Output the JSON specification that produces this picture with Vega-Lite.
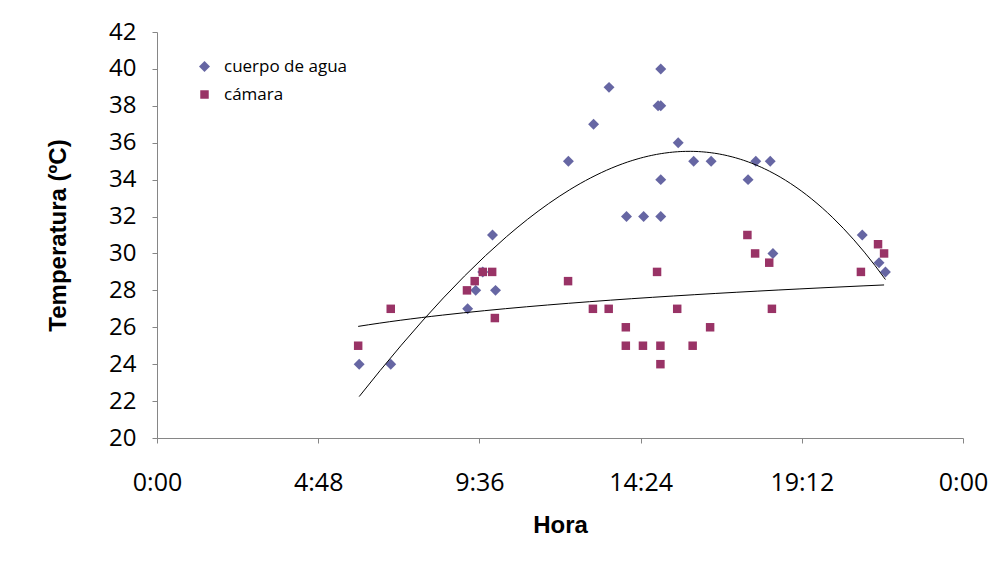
{
  "$schema": "https://vega.github.io/schema/vega-lite/v6.json",
  "width": 806,
  "height": 406,
  "autosize": "none",
  "padding": {"left": 157, "top": 32, "right": 40, "bottom": 125},
  "background": "white",
  "config": {
    "view": {"stroke": null},
    "font": "Open Sans",
    "legend": {
      "title": null,
      "orient": "none",
      "legendX": 39,
      "legendY": 26,
      "padding": 0,
      "symbolOpacity": 1,
      "labelFont": "Open Sans",
      "labelFontSize": 17,
      "labelColor": "black",
      "labelOffset": 11,
      "rowPadding": 10
    }
  },
  "data": {
    "values": [
      {"hora": 6.02, "temp": 24, "serie": "cuerpo de agua"},
      {"hora": 6.96, "temp": 24, "serie": "cuerpo de agua"},
      {"hora": 9.25, "temp": 27, "serie": "cuerpo de agua"},
      {"hora": 9.49, "temp": 28, "serie": "cuerpo de agua"},
      {"hora": 9.70, "temp": 29, "serie": "cuerpo de agua"},
      {"hora": 9.99, "temp": 31, "serie": "cuerpo de agua"},
      {"hora": 10.08, "temp": 28, "serie": "cuerpo de agua"},
      {"hora": 12.25, "temp": 35, "serie": "cuerpo de agua"},
      {"hora": 13.0, "temp": 37, "serie": "cuerpo de agua"},
      {"hora": 13.46, "temp": 39, "serie": "cuerpo de agua"},
      {"hora": 13.98, "temp": 32, "serie": "cuerpo de agua"},
      {"hora": 14.49, "temp": 32, "serie": "cuerpo de agua"},
      {"hora": 14.92, "temp": 38, "serie": "cuerpo de agua"},
      {"hora": 15.0, "temp": 38, "serie": "cuerpo de agua"},
      {"hora": 15.0, "temp": 40, "serie": "cuerpo de agua"},
      {"hora": 15.0, "temp": 34, "serie": "cuerpo de agua"},
      {"hora": 15.0, "temp": 32, "serie": "cuerpo de agua"},
      {"hora": 15.52, "temp": 36, "serie": "cuerpo de agua"},
      {"hora": 15.98, "temp": 35, "serie": "cuerpo de agua"},
      {"hora": 16.5, "temp": 35, "serie": "cuerpo de agua"},
      {"hora": 17.6, "temp": 34, "serie": "cuerpo de agua"},
      {"hora": 17.83, "temp": 35, "serie": "cuerpo de agua"},
      {"hora": 18.26, "temp": 35, "serie": "cuerpo de agua"},
      {"hora": 18.34, "temp": 30, "serie": "cuerpo de agua"},
      {"hora": 21.0, "temp": 31, "serie": "cuerpo de agua"},
      {"hora": 21.5, "temp": 29.5, "serie": "cuerpo de agua"},
      {"hora": 21.69, "temp": 29, "serie": "cuerpo de agua"},
      {"hora": 5.99, "temp": 25, "serie": "cámara"},
      {"hora": 6.96, "temp": 27, "serie": "cámara"},
      {"hora": 9.23, "temp": 28, "serie": "cámara"},
      {"hora": 9.46, "temp": 28.5, "serie": "cámara"},
      {"hora": 9.70, "temp": 29, "serie": "cámara"},
      {"hora": 9.98, "temp": 29, "serie": "cámara"},
      {"hora": 10.06, "temp": 26.5, "serie": "cámara"},
      {"hora": 12.24, "temp": 28.5, "serie": "cámara"},
      {"hora": 12.98, "temp": 27, "serie": "cámara"},
      {"hora": 13.45, "temp": 27, "serie": "cámara"},
      {"hora": 13.96, "temp": 26, "serie": "cámara"},
      {"hora": 13.96, "temp": 25, "serie": "cámara"},
      {"hora": 14.47, "temp": 25, "serie": "cámara"},
      {"hora": 14.89, "temp": 29, "serie": "cámara"},
      {"hora": 14.99, "temp": 25, "serie": "cámara"},
      {"hora": 14.99, "temp": 24, "serie": "cámara"},
      {"hora": 15.49, "temp": 27, "serie": "cámara"},
      {"hora": 15.95, "temp": 25, "serie": "cámara"},
      {"hora": 16.47, "temp": 26, "serie": "cámara"},
      {"hora": 17.58, "temp": 31, "serie": "cámara"},
      {"hora": 17.81, "temp": 30, "serie": "cámara"},
      {"hora": 18.23, "temp": 29.5, "serie": "cámara"},
      {"hora": 18.31, "temp": 27, "serie": "cámara"},
      {"hora": 20.96, "temp": 29, "serie": "cámara"},
      {"hora": 21.47, "temp": 30.5, "serie": "cámara"},
      {"hora": 21.65, "temp": 30, "serie": "cámara"}
    ]
  },
  "encoding": {
    "x": {
      "field": "hora",
      "type": "quantitative",
      "scale": {"domain": [0, 24], "nice": false, "zero": false},
      "axis": {
        "title": "Hora",
        "values": [0, 4.8, 9.6, 14.4, 19.2, 24],
        "labelExpr": "(floor(datum.value + 0.0001) % 24) + ':' + (round((datum.value % 1) * 60) < 10 ? '0' : '') + round((datum.value % 1) * 60)",
        "grid": false,
        "domainColor": "#868686",
        "tickColor": "#868686",
        "tickSize": 5,
        "labelFont": "Open Sans",
        "labelFontSize": 25,
        "labelColor": "black",
        "labelPadding": 27,
        "labelFlush": false,
        "titleFont": "Liberation Sans",
        "titleFontSize": 24,
        "titleFontWeight": "bold",
        "titleColor": "black",
        "titlePadding": 18
      }
    },
    "y": {
      "field": "temp",
      "type": "quantitative",
      "scale": {"domain": [20, 42], "nice": false, "zero": false},
      "axis": {
        "title": "Temperatura (ºC)",
        "values": [20, 22, 24, 26, 28, 30, 32, 34, 36, 38, 40, 42],
        "grid": false,
        "domainColor": "#868686",
        "tickColor": "#868686",
        "tickSize": 5,
        "labelFont": "Open Sans",
        "labelFontSize": 24,
        "labelColor": "black",
        "labelPadding": 16,
        "labelFlush": false,
        "titleFont": "Liberation Sans",
        "titleFontSize": 24,
        "titleFontWeight": "bold",
        "titleColor": "black",
        "titlePadding": 38
      }
    }
  },
  "layer": [
    {
      "mark": {"type": "point", "filled": true, "opacity": 1},
      "encoding": {
        "color": {
          "field": "serie",
          "type": "nominal",
          "scale": {"domain": ["cuerpo de agua", "cámara"], "range": ["#6666a3", "#993366"]}
        },
        "shape": {
          "field": "serie",
          "type": "nominal",
          "scale": {"domain": ["cuerpo de agua", "cámara"], "range": ["diamond", "square"]}
        },
        "size": {
          "field": "serie",
          "type": "nominal",
          "scale": {"domain": ["cuerpo de agua", "cámara"], "range": [120, 72]}
        }
      }
    },
    {
      "transform": [
        {"filter": "datum.serie === 'cuerpo de agua'"},
        {"regression": "temp", "on": "hora", "method": "poly", "order": 3}
      ],
      "mark": {"type": "line", "color": "black", "strokeWidth": 1},
      "encoding": {}
    },
    {
      "transform": [
        {"filter": "datum.serie === 'cámara'"},
        {"regression": "temp", "on": "hora", "method": "log"}
      ],
      "mark": {"type": "line", "color": "black", "strokeWidth": 1},
      "encoding": {}
    }
  ]
}
